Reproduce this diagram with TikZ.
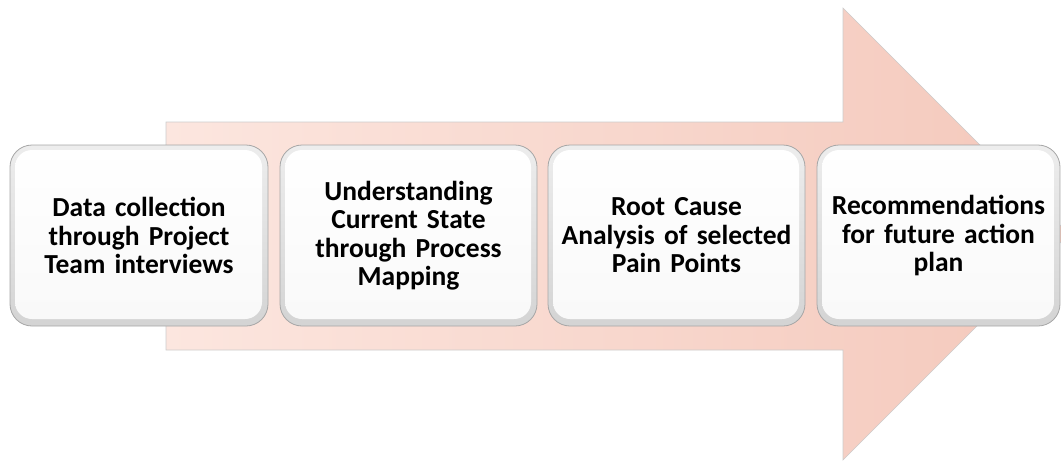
\documentclass[tikz,border=0pt]{standalone}
\usepackage{fontspec}
\setmainfont{Carlito}
\definecolor{pinkL}{HTML}{FCE6DF}
\definecolor{pinkR}{HTML}{F4C8BB}
\begin{document}
\begin{tikzpicture}[x=1pt,y=-1pt,
  stepbox/.style={rounded corners=22pt, draw=gray!70, line width=0.8pt,
    top color=gray!14, bottom color=gray!34,
    minimum height=181pt, inner sep=0pt, align=center,
    font=\bfseries\fontsize{27.5}{28.5}\selectfont,
    path picture={\shade[rounded corners=17pt, top color=white, bottom color=gray!5]
      ([shift={(5pt,-5pt)}]path picture bounding box.north west) rectangle
      ([shift={(-6pt,7pt)}]path picture bounding box.south east);}},
  arrowshape/.style={draw=gray!40, line width=0.6pt, left color=pinkL, right color=pinkR}]
\useasboundingbox (0,0) rectangle (1061,461);
\begin{scope}
\clip (0,0) rectangle (1061,461);
\shade[arrowshape] (166,122) -- (843,122) -- (843,8) -- (1069,234) -- (843,460) -- (843,350) -- (166,350) -- cycle;
\end{scope}
\node[stepbox, minimum width=258pt, text width=250pt] (s1) at (139,235.5) {Data collection\\through Project\\Team interviews};
\node[stepbox, minimum width=257pt, text width=250pt] (s2) at (408.5,235.5) {Understanding\\Current State\\through Process\\Mapping};
\node[stepbox, minimum width=257pt, text width=250pt] (s3) at (676.5,235.5) {Root Cause\\Analysis of selected\\Pain Points};
\node[stepbox, minimum width=243pt, text width=240pt] (s4) at (938.5,235.5) {Recommendations\\for future action\\plan};
\end{tikzpicture}
\end{document}
